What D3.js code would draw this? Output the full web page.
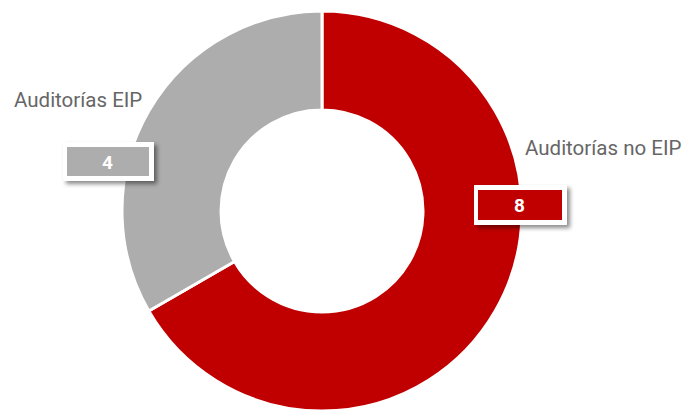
<!DOCTYPE html>
<html>
<head>
<meta charset="utf-8">
<script src="https://cdn.jsdelivr.net/npm/d3@7"></script>
<style>
  body { margin: 0; background: #fff; }
  svg { display: block; font-family: Roboto, "Noto Sans", sans-serif; }
</style>
</head>
<body>
<svg id="chart" width="688" height="410"></svg>
<script>
var categories = ["Auditorías no EIP", "Auditorías EIP"];
var values = [8, 4];
var colors = ["#C00000", "#ADADAD"];

var w = 688, h = 410,
    cx = 322, cy = 211,
    outerR = 200, innerR = 101;

var svg = d3.select("#chart");

var defs = svg.append("defs");
var f = defs.append("filter").attr("id", "shadow")
    .attr("x", "-20%").attr("y", "-30%").attr("width", "150%").attr("height", "180%");
f.append("feDropShadow")
    .attr("dx", 3).attr("dy", 3).attr("stdDeviation", 2)
    .attr("flood-color", "#000").attr("flood-opacity", 0.45);

var pie = d3.pie().sort(null).value(function(d) { return d; });
var arc = d3.arc().innerRadius(innerR).outerRadius(outerR);

var g = svg.append("g").attr("transform", "translate(" + cx + "," + cy + ")");

g.selectAll("path")
    .data(pie(values))
    .enter()
    .append("path")
    .attr("d", arc)
    .attr("fill", function(d, i) { return colors[i]; })
    .attr("stroke", "#fff")
    .attr("stroke-width", 3);

// label positions (category text and value box), by slice
var labelPos = [
    { tx: 525, ty: 155, anchor: "start", bx: 474, by: 185, bw: 93, bh: 40 },
    { tx: 14, ty: 107, anchor: "start", bx: 63, by: 142, bw: 91, bh: 39 }
];

categories.forEach(function(c, i) {
    var p = labelPos[i];
    svg.append("text")
        .attr("x", p.tx)
        .attr("y", p.ty)
        .attr("text-anchor", p.anchor)
        .attr("fill", "#666")
        .style("font-size", "20.5px")
        .text(c);

    svg.append("rect")
        .attr("x", p.bx).attr("y", p.by)
        .attr("width", p.bw).attr("height", p.bh)
        .attr("fill", "#fff")
        .attr("filter", "url(#shadow)");
    svg.append("rect")
        .attr("x", p.bx + 4).attr("y", p.by + 5)
        .attr("width", p.bw - 9).attr("height", p.bh - 10)
        .attr("fill", colors[i]);
    svg.append("text")
        .attr("x", p.bx + p.bw / 2 - 1)
        .attr("y", p.by + p.bh / 2 + 7)
        .attr("text-anchor", "middle")
        .attr("fill", "#fff")
        .style("font-size", "19px")
        .style("font-weight", "bold")
        .text(values[i]);
});
</script>
</body>
</html>
